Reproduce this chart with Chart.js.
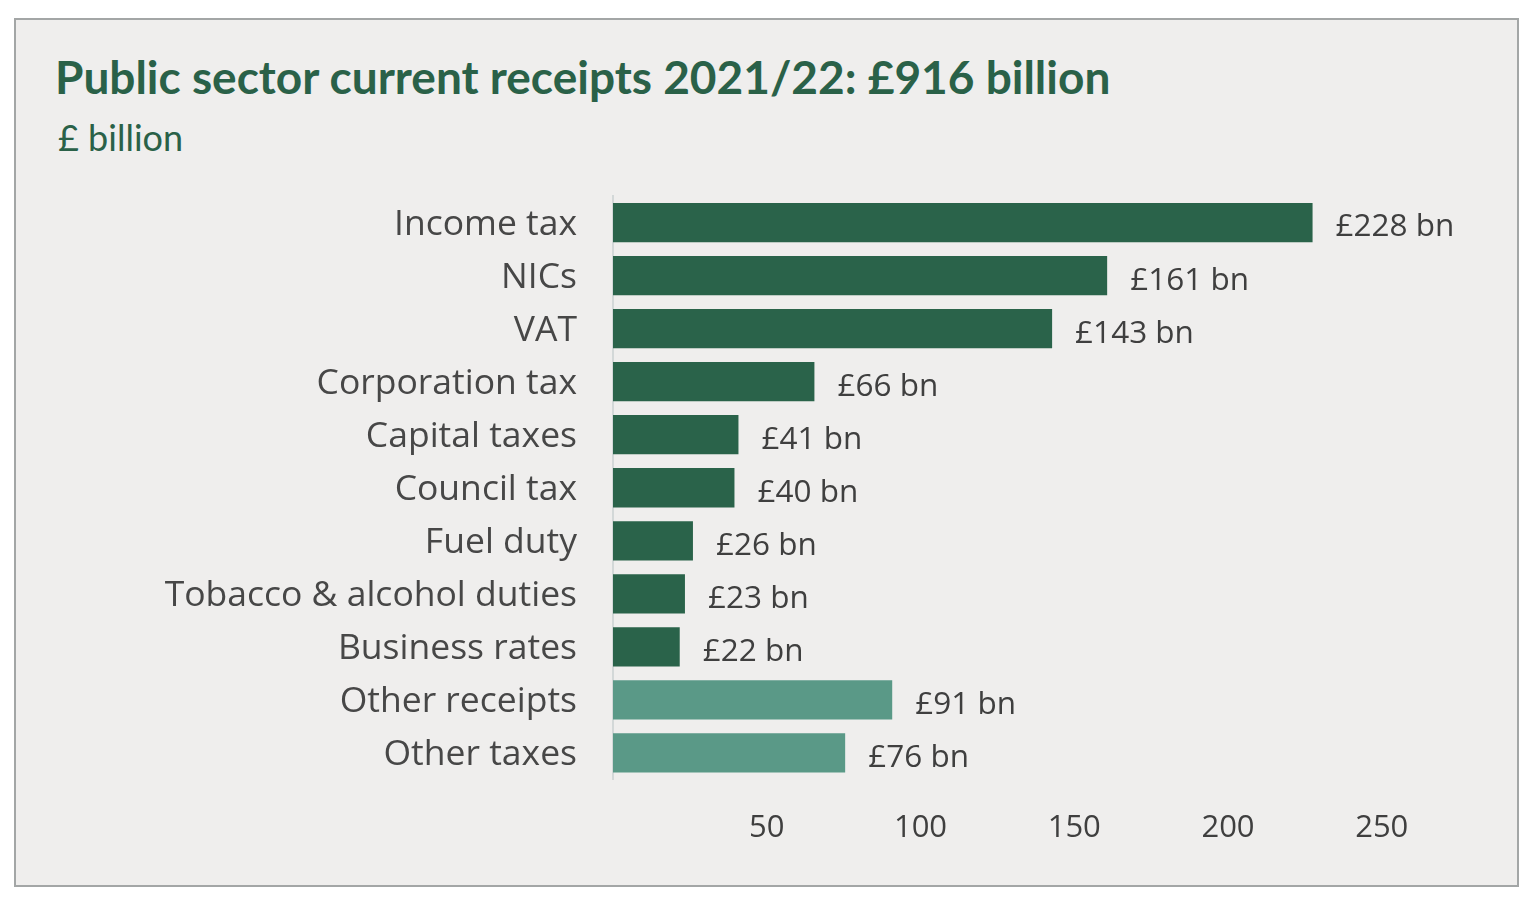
<!DOCTYPE html>
<html><head><meta charset="utf-8">
<script src="https://cdn.jsdelivr.net/npm/chart.js@4.4.0/dist/chart.umd.min.js"></script>
<style>
html,body{margin:0;padding:0;background:#fff;width:1536px;height:904px;overflow:hidden;}
#frame{position:absolute;left:14px;top:18px;width:1501px;height:865px;border:2px solid #a3a6a6;background:#efeeed;}
#title{position:absolute;left:55px;top:49px;font-family:Lato,sans-serif;font-weight:700;font-size:46px;color:#2a6148;white-space:nowrap;}
#sub{position:absolute;left:58px;top:115px;font-family:Lato,sans-serif;font-size:36px;color:#2a6148;white-space:nowrap;}
#wrap{position:absolute;left:0;top:0;width:1536px;height:904px;}
</style></head><body>
<div id="frame"></div>
<div id="title">Public sector current receipts 2021/22: £916 billion</div>
<div id="sub">£ billion</div>
<div id="wrap"><canvas id="c" width="1536" height="904"></canvas></div>
<script>
const categories = ["Income tax","NICs","VAT","Corporation tax","Capital taxes","Council tax","Fuel duty","Tobacco & alcohol duties","Business rates","Other receipts","Other taxes"];
const values = [227.5,160.7,142.8,65.5,40.8,39.5,26,23.4,21.7,90.8,75.5];
const valueLabels = ["£228 bn","£161 bn","£143 bn","£66 bn","£41 bn","£40 bn","£26 bn","£23 bn","£22 bn","£91 bn","£76 bn"];
const tickValues = [50,100,150,200,250];
const dark = "#2a634a", light = "#5a9987";
const barColors = values.map((v,i)=> i>=9 ? light : dark);

const labelPlugin = {
  id:'vlabels',
  afterDatasetsDraw(chart){
    const ctx = chart.ctx;
    const meta = chart.getDatasetMeta(0);
    ctx.save();
    ctx.font = '31.5px "Open Sans"';
    ctx.fillStyle = '#3f3f3f';
    ctx.textBaseline = 'middle';
    ctx.textAlign = 'left';
    meta.data.forEach((bar,i)=>{
      ctx.fillText(valueLabels[i], bar.x + 23, bar.y + 5);
    });
    ctx.restore();
  }
};

new Chart(document.getElementById('c'), {
  type:'bar',
  data:{labels:categories, datasets:[{data:values, backgroundColor:barColors, borderWidth:0, barPercentage:0.74, categoryPercentage:1}]},
  options:{
    indexAxis:'y', responsive:false, animation:false,
    layout:{padding:{left:20,top:196,right:62,bottom:0}},
    plugins:{legend:{display:false}, tooltip:{enabled:false}},
    scales:{
      x:{min:0,max:280,
        grid:{display:false,drawTicks:false}, border:{display:false},
        afterBuildTicks(s){ s.ticks = tickValues.map(v=>({value:v})); },
        afterFit(s){ s.height = 124.5; },
        ticks:{padding:30,color:'#3f3f3f',font:{family:'"Open Sans"',size:31}}
      },
      y:{
        grid:{display:false,drawTicks:false}, border:{display:true,color:'#d3d8d8',width:2},
        afterFit(s){ s.width = 593; },
        ticks:{padding:36,labelOffset:2,color:'#474747',font:{family:'"Open Sans"',size:35.5}}
      }
    }
  },
  plugins:[labelPlugin]
});
</script>
</body></html>
